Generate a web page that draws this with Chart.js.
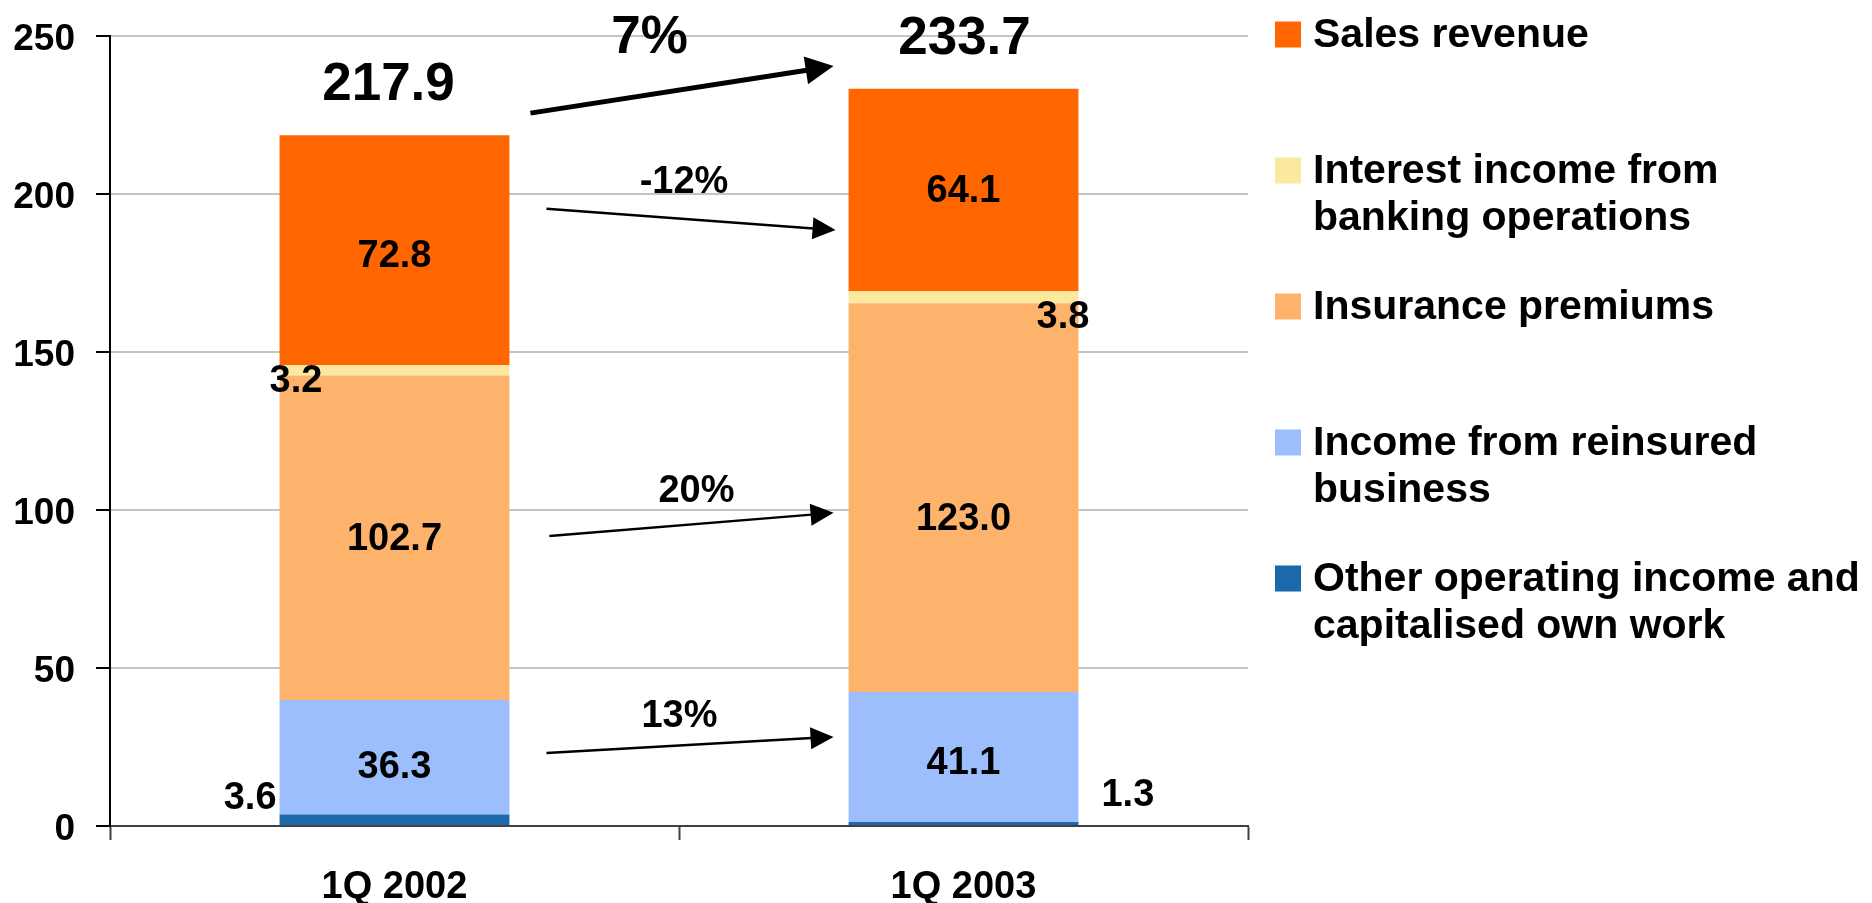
<!DOCTYPE html>
<html>
<head>
<meta charset="utf-8">
<script src="https://cdn.jsdelivr.net/npm/chart.js@4.4.1/dist/chart.umd.min.js"></script>
<style>
  html, body { margin: 0; padding: 0; background: #ffffff; }
  #wrap { position: relative; width: 1872px; height: 903px; }
</style>
</head>
<body>
<div id="wrap"><canvas id="chart" width="1872" height="903"></canvas></div>
<script>
// ---------------- DATA ----------------
const categories = ['1Q 2002', '1Q 2003'];
const seriesNames = [
  'Other operating income and capitalised own work',
  'Income from reinsured business',
  'Insurance premiums',
  'Interest income from banking operations',
  'Sales revenue'
];
const otherOperatingIncome = [3.6, 1.3];
const reinsuredBusiness   = [36.3, 41.1];
const insurancePremiums   = [102.7, 123.0];
const interestIncome      = [3.2, 3.8];
const salesRevenue        = [72.8, 64.1];
const totals              = [217.9, 233.7];
const growthLabels        = ['7%', '-12%', '20%', '13%'];
const yTickValues         = [0, 50, 100, 150, 200, 250];

// ---------------- STYLE ----------------
const FONT = "'Liberation Sans', Arial, Helvetica, sans-serif";
const seriesColors = ['#1A69AB', '#9CBEFC', '#FEB36C', '#FCE9A0', '#FF6600'];

// per-label placement (pixels), keyed by dataset index then category index
const labelPlacement = {
  0: [{ mode: 'leftOut', dx: -3, dy: -24 }, { mode: 'rightOut', dx: 23, dy: -31 }],
  1: [{ mode: 'in', dx: 0, dy: 7 }, { mode: 'in', dx: 0, dy: 3 }],
  2: [{ mode: 'in', dx: 0, dy: -1 }, { mode: 'in', dx: 0, dy: 19 }],
  3: [{ mode: 'leftCross', dx: -10, dy: 8 }, { mode: 'rightCross', dx: 11, dy: 17 }],
  4: [{ mode: 'in', dx: 0, dy: 3 }, { mode: 'in', dx: 0, dy: -2 }]
};
const LABEL_SIZE = 38;
const TOTAL_SIZE = 53;
const totalPlacement = [{ dx: -6, dy: -54 }, { dx: 1, dy: -54 }];

// growth arrows, y in value units, x relative to bar edges
const arrowSpecs = [
  { text: 0, y0: 225.6, y1: 240.5, dx0: 21, dx1: -15, lw: 5,   hl: 28, hw: 28, labelY: 250.5, labelDx: -29.5, size: 53 },
  { text: 1, y0: 195.3, y1: 188.6, dx0: 37, dx1: -13, lw: 2.5, hl: 23, hw: 22, labelY: 204.7, labelDx: 5,     size: 38 },
  { text: 2, y0: 91.8,  y1: 99.1,  dx0: 40, dx1: -15, lw: 2.5, hl: 23, hw: 22, labelY: 106.8, labelDx: 17.5,  size: 38 },
  { text: 3, y0: 23.1,  y1: 28.2,  dx0: 37, dx1: -15, lw: 2.5, hl: 23, hw: 22, labelY: 35.6,  labelDx: 0.5,   size: 38 }
];

const LEG = { top: 32.5, step: 136, box: 26, boxX: 1275, boxDy: 2, textX: 1313, lineH: 47, size: 41, maxW: 565 };

const CAP = 0.358; // half cap-height ratio for Arial-like fonts

function drawCapCentered(ctx, text, x, cy, size, align) {
  ctx.font = `bold ${size}px ${FONT}`;
  ctx.textAlign = align || 'center';
  ctx.textBaseline = 'alphabetic';
  ctx.fillText(text, x, cy + CAP * size);
}

function drawArrow(ctx, x0, y0, x1, y1, lw, hl, hw) {
  const a = Math.atan2(y1 - y0, x1 - x0);
  const bx = x1 - hl * Math.cos(a), by = y1 - hl * Math.sin(a);
  ctx.lineWidth = lw;
  ctx.lineCap = 'butt';
  ctx.beginPath(); ctx.moveTo(x0, y0); ctx.lineTo(bx + Math.cos(a), by + Math.sin(a)); ctx.stroke();
  ctx.beginPath();
  ctx.moveTo(x1, y1);
  ctx.lineTo(bx + (hw / 2) * Math.sin(a), by - (hw / 2) * Math.cos(a));
  ctx.lineTo(bx - (hw / 2) * Math.sin(a), by + (hw / 2) * Math.cos(a));
  ctx.closePath(); ctx.fill();
}

function wrapText(ctx, text, maxW) {
  const words = text.split(' ');
  const lines = [];
  let cur = '';
  words.forEach(w => {
    const test = cur ? cur + ' ' + w : w;
    if (ctx.measureText(test).width > maxW && cur) { lines.push(cur); cur = w; }
    else cur = test;
  });
  if (cur) lines.push(cur);
  return lines;
}

const annotationPlugin = {
  id: 'annotations',
  afterDraw(chart) {
    const ctx = chart.ctx;
    const yS = chart.scales.y;
    ctx.save();
    ctx.fillStyle = '#000';
    ctx.strokeStyle = '#000';

    // segment value labels
    chart.data.datasets.forEach((ds, di) => {
      const meta = chart.getDatasetMeta(di);
      meta.data.forEach((bar, i) => {
        const p = labelPlacement[di][i];
        const left = bar.x - bar.width / 2, right = bar.x + bar.width / 2;
        const cy = (bar.y + bar.base) / 2 + p.dy;
        const txt = ds.data[i].toFixed(1);
        if (p.mode === 'in') drawCapCentered(ctx, txt, bar.x + p.dx, cy, LABEL_SIZE, 'center');
        else if (p.mode === 'leftOut') drawCapCentered(ctx, txt, left + p.dx, cy, LABEL_SIZE, 'right');
        else if (p.mode === 'rightOut') drawCapCentered(ctx, txt, right + p.dx, cy, LABEL_SIZE, 'left');
        else if (p.mode === 'leftCross') drawCapCentered(ctx, txt, left + p.dx, cy, LABEL_SIZE, 'left');
        else if (p.mode === 'rightCross') drawCapCentered(ctx, txt, right + p.dx, cy, LABEL_SIZE, 'right');
      });
    });

    // totals above the stacks
    const topMeta = chart.getDatasetMeta(chart.data.datasets.length - 1);
    topMeta.data.forEach((bar, i) => {
      const p = totalPlacement[i];
      drawCapCentered(ctx, totals[i].toFixed(1), bar.x + p.dx, bar.y + p.dy, TOTAL_SIZE, 'center');
    });

    // growth arrows
    const b0 = topMeta.data[0], b1 = topMeta.data[1];
    const r0 = b0.x + b0.width / 2, l1 = b1.x - b1.width / 2;
    const mid = (r0 + l1) / 2;
    arrowSpecs.forEach(a => {
      drawArrow(ctx, r0 + a.dx0, yS.getPixelForValue(a.y0), l1 + a.dx1, yS.getPixelForValue(a.y1), a.lw, a.hl, a.hw);
      drawCapCentered(ctx, growthLabels[a.text], mid + a.labelDx, yS.getPixelForValue(a.labelY), a.size, 'center');
    });

    // legend (top series first)
    const dsets = chart.data.datasets;
    for (let k = 0; k < dsets.length; k++) {
      const d = dsets[dsets.length - 1 - k];
      const cy = LEG.top + k * LEG.step;
      ctx.fillStyle = d.backgroundColor;
      ctx.fillRect(LEG.boxX, cy + LEG.boxDy - LEG.box / 2, LEG.box, LEG.box);
      ctx.fillStyle = '#000';
      ctx.font = `bold ${LEG.size}px ${FONT}`;
      const lines = wrapText(ctx, d.label, LEG.maxW);
      lines.forEach((t, j) => drawCapCentered(ctx, t, LEG.textX, cy + j * LEG.lineH, LEG.size, 'left'));
    }
    ctx.restore();
  }
};

const seriesValues = [otherOperatingIncome, reinsuredBusiness, insurancePremiums, interestIncome, salesRevenue];

new Chart(document.getElementById('chart'), {
  type: 'bar',
  data: {
    labels: categories,
    datasets: seriesValues.map((vals, i) => ({
      label: seriesNames[i],
      data: vals,
      backgroundColor: seriesColors[i],
      borderWidth: 0,
      barPercentage: 0.404,
      categoryPercentage: 1.0
    }))
  },
  options: {
    responsive: false,
    devicePixelRatio: 1,
    animation: false,
    layout: { padding: { left: 0, top: 36, right: 624, bottom: 0 } },
    plugins: { legend: { display: false }, tooltip: { enabled: false } },
    scales: {
      x: {
        stacked: true,
        afterFit: s => { s.height = 77; s.paddingLeft = 0; s.paddingRight = 0; },
        grid: { display: true, offset: true, drawOnChartArea: false, tickLength: 14, tickColor: '#404040', tickWidth: 2 },
        border: { display: true, color: '#404040', width: 2 },
        ticks: { color: '#000', padding: 25, font: { family: FONT, size: 38, weight: 'bold' } }
      },
      y: {
        stacked: true,
        min: 0, max: 250,
        afterFit: s => { s.width = 110; s.paddingTop = 0; s.paddingBottom = 0; },
        afterBuildTicks: s => { s.ticks = yTickValues.map(v => ({ value: v })); },
        grid: { color: '#C4C4C4', lineWidth: 2, tickLength: 14, tickColor: '#000', tickWidth: 2 },
        border: { display: true, color: '#000', width: 2 },
        ticks: { color: '#000', padding: 21, labelOffset: 4, font: { family: FONT, size: 37, weight: 'bold' } }
      }
    }
  },
  plugins: [annotationPlugin]
});
</script>
</body>
</html>
